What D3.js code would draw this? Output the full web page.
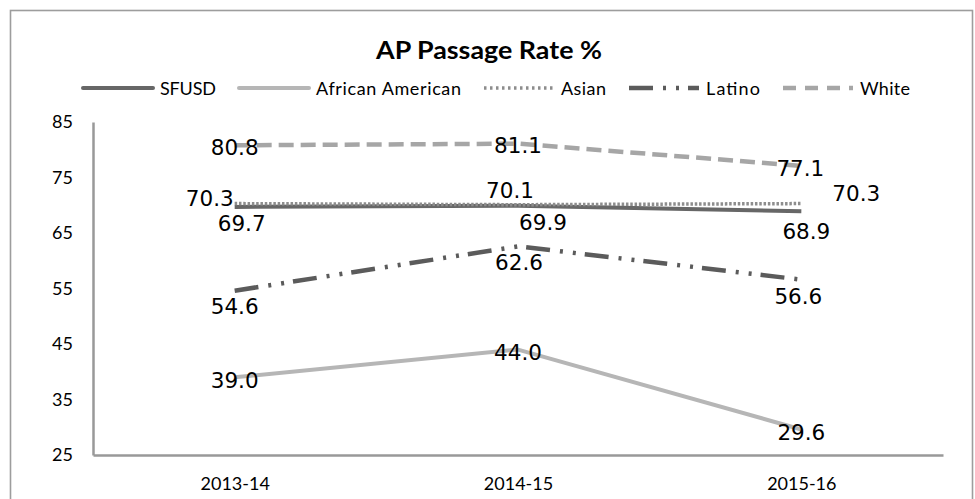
<!DOCTYPE html>
<html>
<head>
<meta charset="utf-8">
<script src="https://cdn.jsdelivr.net/npm/d3@7"></script>
<style>
  html, body { margin: 0; padding: 0; background: #fff; }
  svg { display: block; }
</style>
</head>
<body>
<svg id="chart" width="975" height="499"></svg>
<script>
// AP passage rates by student group, three school years
const years = ["2013-14", "2014-15", "2015-16"];
const seriesNames = ["SFUSD", "African American", "Asian", "Latino", "White"];
const sfusd = [69.7, 69.9, 68.9];
const africanAmerican = [39.0, 44.0, 29.6];
const asian = [70.3, 70.1, 70.3];
const latino = [54.6, 62.6, 56.6];
const white = [80.8, 81.1, 77.1];
const yTicks = [25, 35, 45, 55, 65, 75, 85];

const seriesValues = [sfusd, africanAmerican, asian, latino, white];

// Line appearance per group
const styles = {
  "SFUSD":            { color: "#676767", width: 4,   dash: null },
  "African American": { color: "#b6b6b6", width: 4,   dash: null },
  "Asian":            { color: "#8d8d8d", width: 3.5, dash: "2.5,1.8" },
  "Latino":           { color: "#5b5b5b", width: 4.5, dash: "24,10,3,10,3,9" },
  "White":            { color: "#a6a6a6", width: 4.5, dash: "15,7" }
};

// Value-label placement around each point (pixel nudges, anchor)
const labelPlacement = {
  "SFUSD":            [{dx: 7, dy: 16, a: "middle"}, {dx: 25, dy: 16, a: "middle"}, {dx: 5, dy: 20, a: "middle"}],
  "African American": [{dx: 0, dy: 3, a: "middle"}, {dx: 0, dy: 3, a: "middle"}, {dx: 0, dy: 3, a: "middle"}],
  "Asian":            [{dx: -1, dy: -5, a: "end"}, {dx: -8, dy: -14, a: "middle"}, {dx: 31, dy: -10, a: "start"}],
  "Latino":           [{dx: 0, dy: 16, a: "middle"}, {dx: 1, dy: 16, a: "middle"}, {dx: -3, dy: 17, a: "middle"}],
  "White":            [{dx: 0, dy: 2, a: "middle"}, {dx: 0, dy: 2, a: "middle"}, {dx: -1, dy: 2, a: "middle"}]
};

const svg = d3.select("#chart");

// Chart frame
svg.append("rect")
  .attr("x", 10.5).attr("y", 10.5)
  .attr("width", 962).attr("height", 500)
  .attr("fill", "none")
  .attr("stroke", "#9d9d9d")
  .attr("stroke-width", 1.6);

const plot = { left: 93, right: 943, top: 122, bottom: 455 };

const x = d3.scalePoint().domain(years).range([plot.left, plot.right]).padding(0.5);
const y = d3.scaleLinear().domain([25, 85]).range([plot.bottom, plot.top]);

// Title
svg.append("text")
  .attr("x", 489).attr("y", 59)
  .attr("text-anchor", "middle")
  .attr("font-family", "Lato, 'Open Sans', sans-serif")
  .attr("font-weight", "bold")
  .attr("font-size", 24)
  .attr("textLength", 226)
  .attr("lengthAdjust", "spacingAndGlyphs")
  .attr("fill", "#000")
  .text("AP Passage Rate %");

// Legend
const legendWidths = { "SFUSD": 56, "African American": 145, "Asian": 45, "Latino": 54, "White": 50 };
let lx = 83;
const legendY = 88;
const legend = svg.append("g");
seriesNames.forEach(name => {
  const st = styles[name];
  legend.append("line")
    .attr("x1", lx).attr("x2", lx + 70)
    .attr("y1", legendY).attr("y2", legendY)
    .attr("stroke", st.color)
    .attr("stroke-width", st.width)
    .attr("stroke-linecap", st.dash ? "butt" : "round")
    .attr("stroke-dasharray", name === "Asian" ? "2.5,3.5" : (name === "White" ? "13,9" : st.dash));
  legend.append("text")
    .attr("x", lx + 77).attr("y", legendY + 6.5)
    .attr("font-family", "Lato, 'Open Sans', sans-serif")
    .attr("font-size", 18)
    .attr("textLength", legendWidths[name])
    .attr("lengthAdjust", "spacing")
    .attr("fill", "#000")
    .text(name);
  lx += 77 + legendWidths[name] + 23;
});

// Axes
const yAxis = svg.append("g")
  .attr("transform", `translate(${plot.left},0)`)
  .call(d3.axisLeft(y).tickValues(yTicks).tickSize(0).tickSizeOuter(0).tickPadding(20));
yAxis.select(".domain").attr("stroke", "#999").attr("stroke-width", 2.5);
yAxis.selectAll("text")
  .attr("font-family", "Lato, 'Open Sans', sans-serif")
  .attr("font-size", 18)
  .attr("fill", "#000");

const xAxis = svg.append("g")
  .attr("transform", `translate(0,${plot.bottom})`)
  .call(d3.axisBottom(x).tickSize(0).tickSizeOuter(0).tickPadding(22));
xAxis.select(".domain").attr("stroke", "#999").attr("stroke-width", 2.5);
xAxis.selectAll("text")
  .attr("font-family", "Lato, 'Open Sans', sans-serif")
  .attr("font-size", 18)
  .attr("fill", "#000");

// Series lines
const line = d3.line()
  .x((d, i) => x(years[i]))
  .y(d => y(d));

seriesNames.forEach((name, k) => {
  const st = styles[name];
  svg.append("path")
    .datum(seriesValues[k])
    .attr("fill", "none")
    .attr("stroke", st.color)
    .attr("stroke-width", st.width)
    .attr("stroke-linejoin", "round")
    .attr("stroke-dasharray", st.dash)
    .attr("d", line);
});

// Value labels
seriesNames.forEach((name, k) => {
  seriesValues[k].forEach((v, i) => {
    const p = labelPlacement[name][i];
    svg.append("text")
      .attr("x", x(years[i]) + p.dx)
      .attr("y", y(v) + p.dy)
      .attr("dy", "0.36em")
      .attr("text-anchor", p.a)
      .attr("font-family", "'DejaVu Sans', sans-serif")
      .attr("font-size", 21.5)
      .attr("fill", "#000")
      .text(d3.format(".1f")(v));
  });
});
</script>
</body>
</html>
